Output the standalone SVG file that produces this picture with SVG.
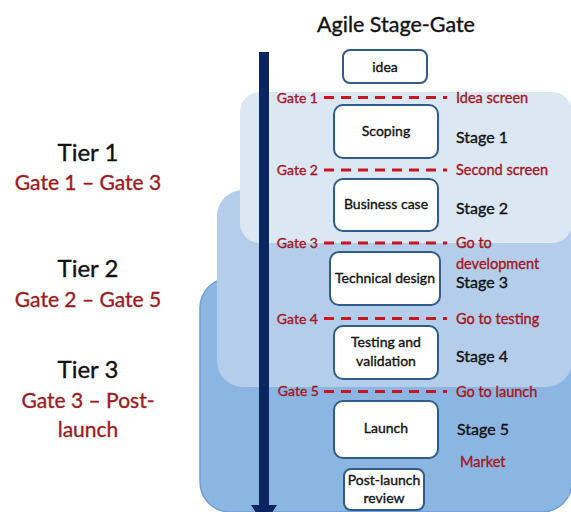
<svg xmlns="http://www.w3.org/2000/svg" width="571" height="512" viewBox="0 0 571 512">
<defs>
<style>
text{font-family:Lato,"Open Sans","Liberation Sans",sans-serif;stroke-width:0.35;}
.box{fill:#fff;stroke:#2f5c8c;stroke-width:2;}
.bt{font-size:14px;fill:#111;stroke:#111;text-anchor:middle;}
.gate{stroke:#c8161e;stroke-width:3;stroke-dasharray:10 7;fill:none;}
.gl{font-size:14px;fill:#a3161d;stroke:#a3161d;text-anchor:end;}
.rl{font-size:14.5px;fill:#a3161d;stroke:#a3161d;}
.st{font-size:16px;fill:#111;stroke:#111;}
.tier{font-size:24px;fill:#111;stroke:#111;text-anchor:middle;}
.tg{font-size:21px;fill:#9b1b20;stroke:#9b1b20;text-anchor:middle;}
</style>
</defs>
<rect width="571" height="512" fill="#fff"/>
<g id="tier3-region"><rect x="200" y="278" width="372" height="234" rx="30" fill="#8cb6e2" stroke="#6f9fd8" stroke-width="1.5"/></g>
<g id="tier2-region"><rect x="217" y="190" width="355" height="197" rx="26" fill="#b3cdeb"/></g>
<g id="tier1-region"><rect x="240" y="92" width="332" height="151" rx="20" fill="#dce7f4"/></g>
<text x="396" y="32" style="font-size:21.5px;fill:#111;stroke:#111;text-anchor:middle">Agile Stage-Gate</text>
<g id="connectors">
<line x1="264" y1="52" x2="264" y2="506" stroke="#0b2560" stroke-width="10"/>
<polygon points="251,505 277,505 264,525" fill="#0b2560"/>
<line class="gate" x1="324" y1="97.5" x2="447" y2="97.5"/>
<line class="gate" x1="324" y1="170" x2="447" y2="170"/>
<line class="gate" x1="324" y1="243" x2="447" y2="243"/>
<line class="gate" x1="324" y1="318.5" x2="447" y2="318.5"/>
<line class="gate" x1="324" y1="391.5" x2="447" y2="391.5"/>
</g>
<g id="tier-labels">
<text class="tier" x="88" y="161">Tier 1</text>
<text class="tg" x="88" y="190">Gate 1 – Gate 3</text>
<text class="tier" x="88" y="277">Tier 2</text>
<text class="tg" x="88" y="307">Gate 2 – Gate 5</text>
<text class="tier" x="88" y="378">Tier 3</text>
<text class="tg" x="88" y="408">Gate 3 – Post-</text>
<text class="tg" x="88" y="437">launch</text>
</g>
<g id="gate-labels">
<text class="gl" x="318" y="103">Gate 1</text>
<text class="gl" x="318" y="175">Gate 2</text>
<text class="gl" x="318" y="248">Gate 3</text>
<text class="gl" x="318" y="324">Gate 4</text>
<text class="gl" x="319" y="396">Gate 5</text>
</g>
<g id="gate-names">
<text class="rl" x="456" y="103">Idea screen</text>
<text class="rl" x="456" y="175">Second screen</text>
<text class="rl" x="456" y="248">Go to</text>
<text class="rl" x="456" y="269">development</text>
<text class="rl" x="456" y="324">Go to testing</text>
<text class="rl" x="456" y="397">Go to launch</text>
<text class="rl" x="460" y="467">Market</text>
</g>
<g id="stage-labels">
<text class="st" x="456" y="143">Stage 1</text>
<text class="st" x="456" y="214">Stage 2</text>
<text class="st" x="456" y="288">Stage 3</text>
<text class="st" x="456" y="362">Stage 4</text>
<text class="st" x="457" y="435">Stage 5</text>
</g>
<g id="node-idea"><rect class="box" x="343" y="50" width="84" height="33" rx="7"/><text class="bt" x="385" y="72">idea</text></g>
<g id="node-scoping"><rect class="box" x="334" y="105" width="104" height="53" rx="9"/><text class="bt" x="386" y="136">Scoping</text></g>
<g id="node-business"><rect class="box" x="334" y="179" width="104" height="52" rx="9"/><text class="bt" x="386" y="209">Business case</text></g>
<g id="node-technical"><rect class="box" x="330" y="252" width="110" height="53" rx="9"/><text class="bt" x="385" y="283">Technical design</text></g>
<g id="node-testing"><rect class="box" x="334" y="326" width="104" height="53" rx="9"/><text class="bt" x="386" y="347">Testing and</text><text class="bt" x="386" y="366">validation</text></g>
<g id="node-launch"><rect class="box" x="334" y="401" width="104" height="57" rx="9"/><text class="bt" x="386" y="433">Launch</text></g>
<g id="node-post"><rect class="box" x="344" y="469" width="80" height="41" rx="7"/><text class="bt" x="384" y="485">Post-launch</text><text class="bt" x="384" y="503">review</text></g>
</svg>
